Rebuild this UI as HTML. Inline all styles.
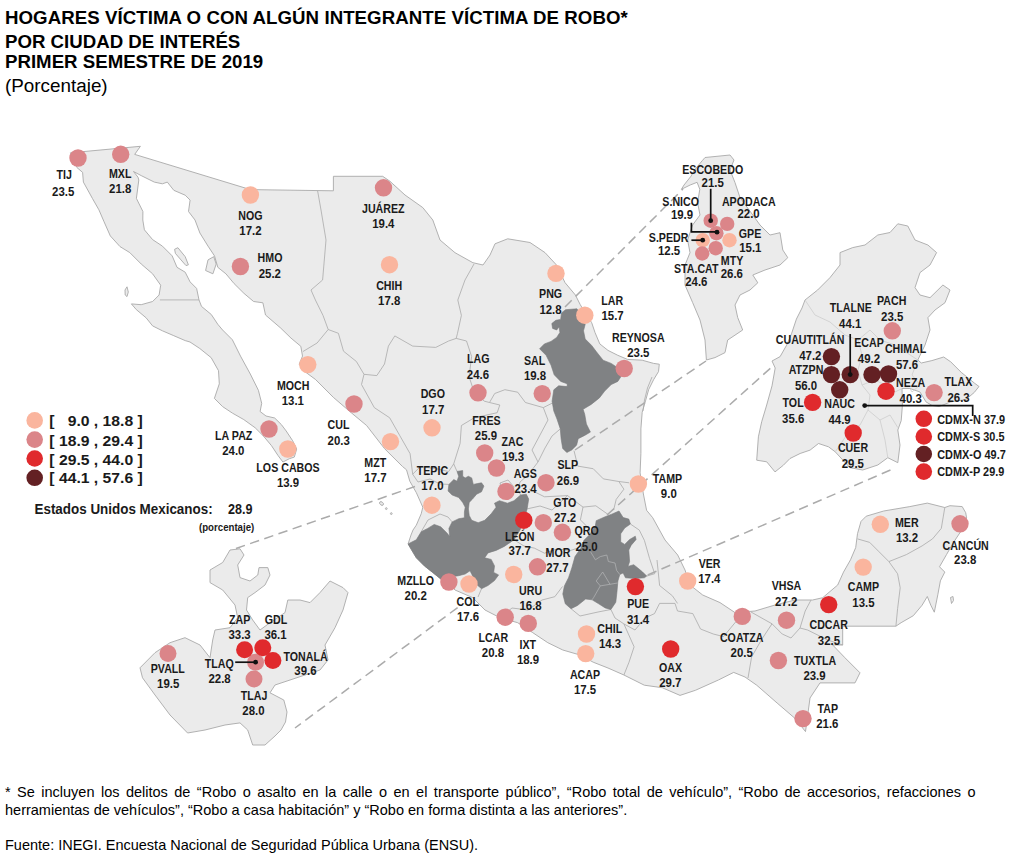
<!DOCTYPE html>
<html><head><meta charset="utf-8">
<style>
html,body{margin:0;padding:0;background:#fff;}
body{width:1018px;height:859px;position:relative;overflow:hidden;font-family:"Liberation Sans",sans-serif;color:#000;}
.t{position:absolute;left:5px;white-space:nowrap;font-weight:bold;font-size:18.67px;line-height:20px;}
.fn{position:absolute;left:5px;font-size:14.5px;line-height:17.7px;}
svg{position:absolute;left:0;top:0;}
svg text{font-family:"Liberation Sans",sans-serif;font-weight:bold;font-size:13px;fill:#1a1a1a;}
</style></head><body>
<div class="t" id="t1" style="top:8.1px;letter-spacing:0.055px">HOGARES VÍCTIMA O CON ALGÚN INTEGRANTE VÍCTIMA DE ROBO*</div>
<div class="t" id="t2" style="top:31.9px">POR CIUDAD DE INTERÉS</div>
<div class="t" id="t3" style="top:52.3px">PRIMER SEMESTRE DE 2019</div>
<div class="t" id="t4" style="top:75.8px;font-size:18.85px;font-weight:normal">(Porcentaje)</div>
<svg id="map" width="1018" height="859" viewBox="0 0 1018 859">
<!--MAP-->
<g fill="#ebebeb" stroke="#a9a9a9" stroke-width="0.9" stroke-linejoin="round">
<polygon points="70.4,152.8 140.4,146.3 134.7,154.4 250.4,189.6 333.4,190.8 333.4,176.3 382.7,176.3 390.0,181.3 405.0,195.0 422.8,207.6 432.8,220.0 440.0,240.0 455.0,252.7 472.9,262.7 483.0,265.0 490.0,255.0 495.0,243.8 507.7,238.8 530.0,242.5 545.0,252.6 556.5,265.0 565.0,282.6 575.4,295.0 580.3,304.8 591.7,322.7 595.0,332.5 599.8,343.9 608.0,350.4 617.8,355.3 627.5,359.4 642.2,360.2 653.6,363.4 659.3,364.2 658.5,371.6 653.6,379.7 648.7,389.5 645.5,400.9 642.2,412.3 640.9,428.9 640.9,453.3 640.1,472.9 643.4,494.0 646.6,510.3 652.7,517.7 665.0,540.0 677.7,555.0 685.0,570.0 690.0,585.0 702.7,595.0 720.0,602.6 735.0,612.6 755.0,611.0 775.0,605.0 795.0,600.0 812.6,600.0 822.7,597.7 837.7,585.0 843.5,572.1 850.5,559.8 855.7,547.6 857.5,533.7 861.0,521.4 866.2,516.2 883.7,511.0 909.8,506.6 927.3,503.1 944.8,507.5 950.0,505.7 962.2,506.6 965.7,512.7 966.6,517.9 960.5,531.9 953.5,542.4 946.5,554.6 939.5,566.8 944.8,572.1 940.4,580.8 937.8,594.8 934.3,612.2 930.8,605.2 927.3,596.5 922.1,605.2 913.3,615.7 901.1,622.7 895.9,626.2 842.7,626.2 842.7,645.0 832.7,645.0 845.0,657.8 860.0,672.8 855.0,682.9 820.0,682.9 810.0,698.0 805.5,731.6 795.0,718.4 777.1,703.0 756.7,685.2 745.0,677.0 733.7,672.4 718.4,680.0 705.0,686.0 695.4,690.3 680.0,695.4 662.2,687.7 644.3,685.2 623.9,675.0 608.0,668.0 593.2,662.2 580.0,655.0 562.8,650.0 547.8,642.7 532.8,632.7 517.7,622.7 500.0,617.7 485.0,610.0 472.6,597.6 455.0,590.0 447.6,582.6 440.7,578.9 432.6,572.4 424.4,565.9 416.3,557.8 411.4,549.6 408.1,543.9 411.0,535.0 413.0,530.0 416.3,525.2 421.2,513.8 422.8,507.2 416.3,492.6 409.8,481.2 406.5,469.8 402.5,466.5 384.5,448.6 366.6,425.5 351.2,412.7 333.3,397.3 315.4,379.4 304.0,371.0 299.2,364.2 302.5,356.1 300.8,346.3 291.0,338.1 280.5,327.9 265.5,315.0 262.9,302.8 253.6,301.5 243.9,293.3 234.1,283.6 225.9,273.8 217.8,267.3 214.5,255.9 208.0,246.1 199.9,233.0 195.0,220.0 188.5,211.5 190.1,200.1 185.2,195.2 173.8,190.3 167.3,182.1 162.4,183.8 154.3,182.1 141.2,175.6 133.5,171.5 138.0,177.2 138.8,180.0 136.4,198.4 142.9,211.5 142.8,220.0 144.4,229.8 152.6,239.6 162.4,246.1 172.2,255.9 177.0,267.3 185.2,272.2 190.1,281.9 196.6,288.4 199.0,299.9 201.5,306.4 211.3,314.5 217.8,324.3 222.6,330.0 232.4,339.8 240.5,356.1 250.3,374.0 258.4,390.3 261.7,403.3 260.1,411.5 266.0,416.0 274.7,418.0 281.3,424.5 286.2,431.0 292.7,440.8 296.7,449.0 294.3,457.1 289.4,458.7 282.9,462.0 278.0,455.5 271.5,445.7 263.3,435.9 255.2,427.8 243.8,419.6 232.4,413.1 222.6,406.6 214.4,398.4 219.3,383.8 218.5,370.7 211.2,357.7 199.8,348.5 190.0,342.0 185.2,340.6 173.8,335.7 162.4,330.8 152.6,325.9 146.1,317.8 136.3,309.6 131.4,303.9 141.2,304.7 152.6,301.5 159.1,295.0 160.7,285.2 152.6,273.8 141.2,264.0 129.8,252.6 120.0,246.6 110.3,235.9 103.8,221.2 98.9,209.8 92.4,198.4 83.4,182.1 82.6,172.4 76.9,167.5 70.4,152.8"/>
<polygon points="705.0,157.5 730.0,155.0 734.0,160.0 730.0,170.0 735.0,182.6 740.0,197.6 752.8,215.0 760.0,225.0 770.0,235.0 780.0,232.7 782.8,250.0 787.8,257.7 780.0,265.0 765.0,270.0 752.8,275.0 757.8,282.8 750.0,290.0 740.0,295.0 735.0,305.0 737.7,317.5 742.7,330.0 727.7,340.0 725.0,352.6 715.0,357.6 706.4,360.0 705.0,340.0 700.0,320.0 692.6,302.5 685.0,285.0 685.0,265.0 690.0,252.7 687.6,240.0 692.6,225.0 700.0,215.0 697.6,202.6 699.8,189.3 697.1,182.3 690.2,185.0 681.4,189.3 684.0,185.0 691.0,176.2 694.5,170.0 702.4,160.5"/>
<polygon points="897.8,223.8 907.8,226.0 915.0,240.0 927.9,245.0 936.6,252.6 930.0,265.0 920.0,272.6 915.0,287.6 920.0,295.0 930.0,297.7 942.9,285.0 950.0,290.0 945.0,302.7 935.0,310.0 927.9,317.7 930.0,330.0 925.0,345.0 917.8,360.0 921.3,363.0 931.9,360.6 943.7,357.0 950.7,361.8 961.3,372.4 974.3,383.0 979.0,386.5 974.3,392.4 966.0,399.5 950.7,401.9 939.0,406.6 931.9,405.4 926.0,401.9 920.0,392.0 910.0,388.5 902.0,388.5 902.4,405.4 901.2,420.7 897.8,430.0 900.0,445.0 897.8,462.7 887.8,457.7 877.8,465.0 862.7,470.0 850.0,467.7 840.0,457.0 835.2,451.8 828.5,446.8 818.5,443.5 810.1,450.1 800.1,453.5 790.0,458.5 783.4,465.2 775.0,471.9 766.7,461.8 756.7,460.2 758.4,436.8 761.7,421.7 766.7,405.0 772.0,385.9 775.2,368.0 772.0,361.0 780.1,356.6 786.6,345.2 791.5,333.8 796.4,319.1 802.0,308.0 805.0,300.0 817.6,290.0 830.0,277.6 840.0,265.0 840.0,252.6 852.7,247.6 865.0,245.0 877.8,235.0 890.0,232.5"/>
<polygon points="230.0,550.0 240.0,548.8 244.0,555.0 237.7,565.0 240.0,577.6 250.0,581.0 257.8,575.0 259.0,567.6 267.8,567.6 270.0,575.0 265.0,585.0 255.0,592.6 247.7,597.6 246.5,610.0 252.7,620.0 260.0,630.0 270.0,622.7 285.0,612.6 287.8,600.0 300.0,600.0 310.0,602.6 320.0,592.6 330.0,581.0 343.0,587.6 348.0,592.6 343.0,610.0 335.0,627.7 325.0,645.0 328.0,660.0 320.0,670.0 305.0,675.0 290.0,680.0 275.0,685.0 270.0,692.8 283.8,700.0 287.0,712.0 285.5,722.0 281.0,730.0 275.0,736.0 265.0,745.0 252.7,745.0 247.7,730.0 240.0,722.9 225.0,725.0 205.0,730.0 187.6,733.0 170.0,715.0 155.0,695.0 142.5,677.8 140.0,667.8 155.0,652.7 170.0,642.7 185.0,637.7 200.0,645.0 210.0,657.7 212.7,640.0 215.0,630.0 230.0,627.7 237.7,617.7 235.0,605.0 222.7,590.0 210.0,582.6 210.0,570.0 222.7,562.5"/>
<polygon points="208,259.9 213.7,256.7 216.2,264 212.9,273.8 205.6,270.5"/>
<polygon points="174.6,249.3 177.9,247.7 185.2,256.7 188.4,264.8 186,265.6 180.3,259.1 175.4,253.4"/>
<polygon points="950.5,597.5 953,596.5 953.5,600.5 951.5,603.5"/>
<polygon points="125,290 127,286.8 128.3,292 127,296.6 125.2,295"/>
<ellipse cx="381.5" cy="503.5" rx="2.2" ry="1.5" transform="rotate(40 381.5 503.5)"/>
<circle cx="386.3" cy="508.6" r="0.9"/>
<circle cx="391.3" cy="513.6" r="0.9"/>
</g>
<g fill="none" stroke="#a9a9a9" stroke-width="0.8" stroke-linejoin="round">
<polyline points="159.9,299.9 199.0,299.9"/>
<polyline points="317.6,190.8 321.0,210.0 326.0,240.0 322.6,280.0 311.0,290.0 315.4,300.0 323.0,315.4 328.2,329.5"/>
<polyline points="303.0,351.5 317.1,343.0 328.2,329.5"/>
<polyline points="328.2,329.5 338.4,333.3 343.5,351.2 356.4,361.5 364.0,374.3"/>
<polyline points="364.0,374.3 376.8,375.6 384.5,364.0 388.4,346.1 394.8,335.9 412.7,346.1 435.8,347.4 448.6,341.0 456.2,338.4"/>
<polyline points="474.0,264.0 465.0,280.0 457.8,300.0 461.4,315.4 457.5,333.3 456.2,338.4"/>
<polyline points="456.2,338.4 466.5,341.0 471.6,356.4 469.1,376.8 474.2,392.2 484.4,401.2 489.5,402.5"/>
<polyline points="489.5,402.5 494.7,393.5 504.9,389.7 517.7,392.2 525.4,402.5 543.3,407.6 552.5,403.0"/>
<polyline points="489.5,402.5 499.8,405.0 497.2,412.7 474.2,417.8 461.4,425.5 460.1,443.4 453.7,463.9 448.6,471.6 438.3,469.1 420.4,466.5 412.7,474.2"/>
<polyline points="364.0,374.3 361.5,384.5 374.3,407.6 389.7,417.8 399.9,435.8 410.1,453.7 412.7,474.2"/>
<polyline points="412.7,474.2 418.0,482.0 430.0,479.0 440.0,484.0 448.9,484.4"/>
<polyline points="453.7,463.9 457.0,471.4"/>
<polyline points="543.3,407.6 548.0,420.0 540.0,435.0 532.0,450.0 538.0,462.0 528.0,475.0 520.0,482.0 518.0,490.0 520.6,495.0"/>
<polyline points="560.3,428.9 552.0,436.0 545.0,448.0 538.0,462.0"/>
<polyline points="574.0,450.7 577.8,466.1 593.2,468.7 603.4,478.9 618.8,481.5 629.1,482.8"/>
<polyline points="618.8,481.5 623.9,489.2 616.2,499.4 613.7,509.7"/>
<polyline points="529.2,489.2 544.5,496.8 567.6,495.6 583.0,507.1 595.8,505.8 608.6,514.8"/>
<polyline points="583.0,507.1 580.4,519.9 588.1,527.6 590.5,533.8"/>
<polyline points="527.1,508.9 540.0,506.0 552.0,510.0 567.6,495.6"/>
<polyline points="514.0,539.8 524.0,546.0 534.3,548.1 544.5,553.2 557.0,549.0 570.1,550.6 578.0,548.0"/>
<polyline points="500.0,617.7 512.0,608.0 528.0,610.0 542.0,600.0 554.8,596.7 562.5,586.5"/>
<polyline points="571.0,608.7 580.0,616.0 598.0,612.0 610.9,609.5"/>
<polyline points="646.7,576.1 654.7,573.7 649.5,558.3 644.4,540.4 639.3,530.1 630.4,524.0"/>
<polyline points="657.0,560.0 659.6,585.5 672.4,595.8 677.5,603.4"/>
<polyline points="654.5,613.6 659.6,603.4 675.0,603.4 677.5,611.0 692.8,613.6 700.5,629.0 713.3,634.0 723.5,636.6 736.2,621.3"/>
<polyline points="654.5,613.6 645.0,618.0 635.0,630.0 623.9,623.9"/>
<polyline points="623.9,623.9 634.1,646.8 629.0,662.2 623.9,675.0"/>
<polyline points="610.9,609.5 615.0,618.0 623.9,623.9"/>
<polyline points="751.0,612.0 772.0,623.8 761.8,639.2 751.6,657.0 748.0,678.0"/>
<polyline points="772.0,623.8 782.2,634.0 791.0,638.0 800.0,628.0 807.6,630.0 827.7,640.0 842.7,645.0"/>
<polyline points="800.0,628.0 805.2,611.0 811.0,600.0"/>
<polyline points="857.5,538.9 869.7,542.4 878.4,551.1 888.9,561.6 906.4,554.6 922.1,545.9 932.5,538.9 941.3,528.4 944.8,507.5"/>
<polyline points="888.9,561.6 897.6,573.8 900.2,587.8 897.6,608.7 895.9,626.2"/>
<polyline points="447.6,582.6 455.0,577.0"/>
<polyline points="481.5,588.7 478.0,597.0"/>
<polyline points="421.2,531.7 428.0,520.0 440.0,514.0 448.0,517.0 452.1,521.9"/>
<polyline points="652.0,377.0 647.5,388.0 644.5,400.0 643.0,411.0"/>
<polyline points="500.0,483.0 508.0,480.0 514.0,487.0 511.0,496.0 503.0,495.0 500.0,483.0"/>
</g>
<g fill="none" stroke="#cdcdcd" stroke-width="0.8" stroke-linejoin="round">
<polyline points="805.0,300.0 815.0,315.0 830.0,322.0 845.0,335.0 858.0,340.0 870.0,330.0 880.0,340.0 895.0,345.0 917.8,360.0"/>
<polyline points="858.0,340.0 862.0,355.0 858.0,370.0 862.0,385.0 870.0,395.0 868.0,410.0 880.0,420.0 890.0,415.0 897.8,427.6"/>
<polyline points="862.0,385.0 875.0,380.0 885.0,385.0 895.0,392.0 902.0,388.5"/>
<polyline points="868.0,410.0 860.0,425.0 850.0,430.0 842.0,442.0 835.2,451.8"/>
<polyline points="880.0,420.0 885.0,440.0 887.8,457.7"/>
<polyline points="917.8,360.0 912.0,375.0 920.0,385.0 912.0,392.0 910.0,388.5"/>
</g>
<g fill="#808284" stroke="#77797b" stroke-width="0.6" stroke-linejoin="round">
<polygon points="565.6,309.7 577.0,308.8 581.0,316.0 585.2,324.3 583.5,330.8 585.2,339.0 591.7,345.5 596.6,352.0 603.1,360.2 611.2,363.4 616.1,366.7 621.0,376.5 617.8,381.4 611.2,384.6 604.7,391.1 599.4,397.9 591.2,404.4 583.1,409.3 584.7,414.2 586.4,424.0 590.4,432.1 584.7,435.4 578.2,438.7 576.6,445.2 571.7,450.0 566.8,452.5 562.7,448.4 561.1,438.7 560.3,428.9 557.0,419.1 553.8,411.0 552.1,401.2 553.8,389.8 558.7,385.8 567.2,386.6 567.2,383.8 560.7,381.4 554.2,374.8 551.0,365.1 546.1,355.3 539.6,348.8 544.4,343.9 551.0,341.4 556.7,337.4 559.9,332.5 559.1,326.8 556.7,330.0 552.6,328.4 551.8,323.5 555.8,320.3 560.7,319.4 561.5,312.9"/>
<polygon points="457.0,471.4 462.7,470.6 462.7,476.3 465.2,477.9 468.4,476.3 471.7,477.9 473.3,484.4 477.4,483.6 481.5,482.8 483.9,486.1 481.5,491.8 476.6,494.2 472.5,499.1 469.2,502.4 468.4,508.9 469.2,515.4 471.7,520.3 478.2,522.7 484.7,520.3 491.2,513.8 496.1,507.2 494.5,503.2 499.4,500.7 507.5,503.2 514.0,500.7 520.6,495.0 526.3,494.2 528.7,499.1 527.1,508.9 524.0,520.0 520.0,530.0 514.0,539.8 504.3,546.4 496.1,550.4 488.0,552.9 484.7,557.8 491.2,559.4 494.5,565.9 493.7,572.4 498.6,574.9 494.5,580.6 488.0,585.5 481.5,588.7 476.0,584.0 473.0,577.0 471.7,574.0 470.0,570.8 465.2,574.0 458.7,575.7 450.0,577.0 440.7,578.9 432.6,572.4 424.4,565.9 416.3,557.8 411.4,549.6 408.1,543.9 416.3,539.8 421.2,531.7 427.7,528.4 434.2,524.4 440.7,526.8 447.2,533.3 449.7,536.6 448.9,528.4 452.1,521.9 458.7,518.7 464.4,517.8 464.4,512.1 465.2,507.2 462.7,502.4 458.7,497.5 452.1,495.0 448.1,491.0 448.9,484.4 453.8,479.6 457.0,481.2 458.7,476.3"/>
<polygon points="619.0,511.0 623.1,517.5 628.8,519.1 630.4,524.0 624.7,528.0 620.7,533.8 620.7,541.9 624.7,544.4 629.6,539.5 635.3,536.2 636.1,539.5 631.2,545.2 628.8,550.0 629.6,561.5 628.0,566.4 633.7,564.7 637.8,568.0 642.6,572.0 646.7,576.1 644.3,577.8 635.0,578.5 625.5,577.8 623.1,572.9 619.8,574.5 617.9,581.0 616.9,592.4 615.8,602.2 610.9,609.5 605.2,607.9 598.7,603.8 592.1,599.8 585.6,599.0 577.5,605.5 571.0,608.7 565.3,603.8 562.8,594.0 564.4,585.9 568.5,577.8 571.8,568.0 575.0,556.6 580.7,548.4 584.0,540.3 590.5,533.8 595.4,525.6 596.2,520.7 605.2,516.7 611.7,514.2"/>
</g>
<g fill="none" stroke="#b5b6b8" stroke-width="0.7">
<polyline points="590.5,551.7 595.4,559.8 600.3,556.6 606.8,555.0 608.4,561.5 615.0,563.0 616.6,570.4 619.8,574.5"/>
<polyline points="602.7,572.0 596.2,581.0 600.3,585.9 610.0,584.3 602.7,572.0"/>
<polyline points="600.3,585.9 593.8,597.3 592.1,599.8"/>
<polyline points="610.0,584.3 617.5,583.0"/>
</g>
<g fill="none" stroke="#ababab" stroke-width="1.5" stroke-dasharray="9.5,5.5">
<line x1="565.0" y1="307.0" x2="683.0" y2="189.0"/>
<line x1="575.0" y1="450.0" x2="706.0" y2="361.0"/>
<line x1="607.0" y1="515.0" x2="774.0" y2="365.0"/>
<line x1="647.7" y1="575.0" x2="892.8" y2="469.0"/>
<line x1="415.0" y1="486.5" x2="236.0" y2="548.5"/>
<line x1="457.6" y1="607.6" x2="295.0" y2="728.0"/>
</g>
<g>
<circle cx="78.0" cy="158.0" r="8.7" fill="#db8589"/>
<circle cx="120.7" cy="154.3" r="8.7" fill="#db8589"/>
<circle cx="250.4" cy="195.0" r="8.7" fill="#fab59e"/>
<circle cx="240.4" cy="266.5" r="8.7" fill="#db8589"/>
<circle cx="383.5" cy="187.8" r="8.7" fill="#db8589"/>
<circle cx="389.5" cy="264.7" r="8.7" fill="#fab59e"/>
<circle cx="556.0" cy="273.4" r="8.7" fill="#fab59e"/>
<circle cx="584.8" cy="315.2" r="8.7" fill="#fab59e"/>
<circle cx="624.2" cy="368.5" r="8.7" fill="#db8589"/>
<circle cx="478.0" cy="392.8" r="8.7" fill="#db8589"/>
<circle cx="542.2" cy="393.6" r="8.7" fill="#db8589"/>
<circle cx="307.8" cy="364.6" r="8.7" fill="#fab59e"/>
<circle cx="354.0" cy="404.0" r="8.7" fill="#db8589"/>
<circle cx="432.0" cy="427.8" r="8.7" fill="#fab59e"/>
<circle cx="390.5" cy="441.6" r="8.7" fill="#fab59e"/>
<circle cx="269.0" cy="429.0" r="8.7" fill="#db8589"/>
<circle cx="287.8" cy="449.0" r="8.7" fill="#fab59e"/>
<circle cx="484.7" cy="453.0" r="8.7" fill="#db8589"/>
<circle cx="496.5" cy="468.0" r="8.7" fill="#db8589"/>
<circle cx="506.0" cy="491.4" r="8.7" fill="#db8589"/>
<circle cx="546.0" cy="482.7" r="8.7" fill="#db8589"/>
<circle cx="638.4" cy="484.0" r="8.7" fill="#fab59e"/>
<circle cx="431.9" cy="505.2" r="8.7" fill="#fab59e"/>
<circle cx="523.8" cy="520.2" r="8.7" fill="#e02a2d"/>
<circle cx="543.3" cy="522.7" r="8.7" fill="#db8589"/>
<circle cx="562.4" cy="532.3" r="8.7" fill="#db8589"/>
<circle cx="537.5" cy="566.8" r="8.7" fill="#db8589"/>
<circle cx="513.7" cy="574.5" r="8.7" fill="#fab59e"/>
<circle cx="448.9" cy="582.0" r="8.7" fill="#db8589"/>
<circle cx="469.0" cy="584.0" r="8.7" fill="#fab59e"/>
<circle cx="505.2" cy="617.2" r="8.7" fill="#db8589"/>
<circle cx="528.3" cy="623.4" r="8.7" fill="#db8589"/>
<circle cx="586.5" cy="634.0" r="8.7" fill="#fab59e"/>
<circle cx="585.7" cy="653.6" r="8.7" fill="#fab59e"/>
<circle cx="635.4" cy="586.6" r="8.7" fill="#e02a2d"/>
<circle cx="687.7" cy="581.0" r="8.7" fill="#fab59e"/>
<circle cx="670.7" cy="649.0" r="8.7" fill="#e02a2d"/>
<circle cx="742.3" cy="616.4" r="8.7" fill="#db8589"/>
<circle cx="786.5" cy="620.2" r="8.7" fill="#db8589"/>
<circle cx="828.7" cy="604.6" r="8.7" fill="#e02a2d"/>
<circle cx="863.2" cy="567.1" r="8.7" fill="#fab59e"/>
<circle cx="880.3" cy="524.3" r="8.7" fill="#fab59e"/>
<circle cx="960.0" cy="523.8" r="8.7" fill="#db8589"/>
<circle cx="778.4" cy="660.5" r="8.7" fill="#db8589"/>
<circle cx="803.0" cy="718.6" r="8.7" fill="#db8589"/>
<circle cx="892.3" cy="330.8" r="8.7" fill="#db8589"/>
<circle cx="831.4" cy="356.6" r="8.7" fill="#632023"/>
<circle cx="831.4" cy="374.6" r="8.7" fill="#632023"/>
<circle cx="850.2" cy="374.6" r="8.7" fill="#632023"/>
<circle cx="839.7" cy="389.8" r="8.7" fill="#632023"/>
<circle cx="872.0" cy="374.6" r="8.7" fill="#632023"/>
<circle cx="888.5" cy="374.0" r="8.7" fill="#632023"/>
<circle cx="886.0" cy="391.2" r="8.7" fill="#e02a2d"/>
<circle cx="934.1" cy="392.6" r="8.7" fill="#db8589"/>
<circle cx="812.6" cy="402.4" r="8.7" fill="#e02a2d"/>
<circle cx="853.2" cy="433.0" r="8.7" fill="#e02a2d"/>
<circle cx="923.8" cy="418.8" r="8.3" fill="#e02a2d"/>
<circle cx="923.8" cy="436.5" r="8.3" fill="#e02a2d"/>
<circle cx="923.8" cy="454.0" r="8.3" fill="#632023"/>
<circle cx="923.8" cy="471.6" r="8.3" fill="#e02a2d"/>
<circle cx="168.0" cy="653.4" r="8.5" fill="#db8589"/>
<circle cx="255.6" cy="662.2" r="8.5" fill="#db8589"/>
<circle cx="254.0" cy="679.0" r="8.5" fill="#db8589"/>
<circle cx="244.6" cy="649.8" r="8.5" fill="#e02a2d"/>
<circle cx="262.8" cy="647.8" r="8.5" fill="#e02a2d"/>
<circle cx="272.9" cy="660.5" r="8.5" fill="#e02a2d"/>
<circle cx="710.7" cy="220.7" r="7.2" fill="#db8589"/>
<circle cx="727.2" cy="223.9" r="7.2" fill="#db8589"/>
<circle cx="702.7" cy="240.2" r="7.2" fill="#fab59e"/>
<circle cx="729.5" cy="240.2" r="7.2" fill="#fab59e"/>
<circle cx="716.4" cy="233.2" r="7.2" fill="#db8589"/>
<circle cx="715.7" cy="248.2" r="7.2" fill="#db8589"/>
<circle cx="702.2" cy="253.5" r="7.2" fill="#db8589"/>
<circle cx="34.7" cy="420.4" r="8.3" fill="#fab59e"/>
<circle cx="34.7" cy="439.6" r="8.3" fill="#db8589"/>
<circle cx="34.7" cy="458.5" r="8.3" fill="#e02a2d"/>
<circle cx="34.7" cy="477.8" r="8.3" fill="#632023"/>
</g>
<g fill="none" stroke="#111" stroke-width="1.7">
<polyline points="710.7,188.8 710.7,220.7"/>
<polyline points="691.4,222.7 691.4,231.8 717,231.8"/>
<polyline points="691.4,240.2 702.7,240.2"/>
<polyline points="850.2,334 850.2,374.6"/>
<polyline points="864.7,405.6 972.7,405.6 972.7,416"/>
<polyline points="235.2,662.2 255.6,662.2"/>
</g>
<g fill="#111">
<circle cx="710.7" cy="220.7" r="2.4"/>
<circle cx="717.0" cy="232.2" r="2.4"/>
<circle cx="702.7" cy="240.2" r="2.4"/>
<circle cx="850.2" cy="374.6" r="2.4"/>
<circle cx="864.7" cy="405.6" r="2.4"/>
<circle cx="255.6" cy="662.2" r="2.4"/>
</g>
<text transform="translate(64.2,179.3) scale(0.820,1)" text-anchor="middle">TIJ</text>
<text transform="translate(63.2,195.6) scale(0.880,1)" text-anchor="middle">23.5</text>
<text transform="translate(120.2,178.1) scale(0.820,1)" text-anchor="middle">MXL</text>
<text transform="translate(120.2,193.4) scale(0.880,1)" text-anchor="middle">21.8</text>
<text transform="translate(250.4,219.7) scale(0.820,1)" text-anchor="middle">NOG</text>
<text transform="translate(250.4,235.2) scale(0.880,1)" text-anchor="middle">17.2</text>
<text transform="translate(270.0,262.3) scale(0.820,1)" text-anchor="middle">HMO</text>
<text transform="translate(269.8,278.3) scale(0.880,1)" text-anchor="middle">25.2</text>
<text transform="translate(293.2,389.7) scale(0.820,1)" text-anchor="middle">MOCH</text>
<text transform="translate(292.8,404.7) scale(0.880,1)" text-anchor="middle">13.1</text>
<text transform="translate(338.5,429.0) scale(0.820,1)" text-anchor="middle">CUL</text>
<text transform="translate(338.7,444.5) scale(0.880,1)" text-anchor="middle">20.3</text>
<text transform="translate(375.2,467.3) scale(0.820,1)" text-anchor="middle">MZT</text>
<text transform="translate(375.4,482.4) scale(0.880,1)" text-anchor="middle">17.7</text>
<text transform="translate(233.7,439.8) scale(0.820,1)" text-anchor="middle">LA PAZ</text>
<text transform="translate(233.3,455.3) scale(0.880,1)" text-anchor="middle">24.0</text>
<text transform="translate(288.0,471.6) scale(0.820,1)" text-anchor="middle">LOS CABOS</text>
<text transform="translate(288.0,486.6) scale(0.880,1)" text-anchor="middle">13.9</text>
<text transform="translate(383.3,213.4) scale(0.820,1)" text-anchor="middle">JUÁREZ</text>
<text transform="translate(383.3,228.2) scale(0.880,1)" text-anchor="middle">19.4</text>
<text transform="translate(389.2,289.8) scale(0.820,1)" text-anchor="middle">CHIH</text>
<text transform="translate(389.2,305.3) scale(0.880,1)" text-anchor="middle">17.8</text>
<text transform="translate(550.6,297.7) scale(0.820,1)" text-anchor="middle">PNG</text>
<text transform="translate(550.5,313.9) scale(0.880,1)" text-anchor="middle">12.8</text>
<text transform="translate(612.3,305.2) scale(0.820,1)" text-anchor="middle">LAR</text>
<text transform="translate(612.6,320.2) scale(0.880,1)" text-anchor="middle">15.7</text>
<text transform="translate(638.3,341.5) scale(0.820,1)" text-anchor="middle">REYNOSA</text>
<text transform="translate(638.3,357.3) scale(0.880,1)" text-anchor="middle">23.5</text>
<text transform="translate(478.2,363.3) scale(0.820,1)" text-anchor="middle">LAG</text>
<text transform="translate(477.9,379.0) scale(0.880,1)" text-anchor="middle">24.6</text>
<text transform="translate(534.6,364.8) scale(0.820,1)" text-anchor="middle">SAL</text>
<text transform="translate(535.0,380.3) scale(0.880,1)" text-anchor="middle">19.8</text>
<text transform="translate(432.8,398.4) scale(0.820,1)" text-anchor="middle">DGO</text>
<text transform="translate(433.2,414.0) scale(0.880,1)" text-anchor="middle">17.7</text>
<text transform="translate(486.5,424.6) scale(0.820,1)" text-anchor="middle">FRES</text>
<text transform="translate(485.9,440.1) scale(0.880,1)" text-anchor="middle">25.9</text>
<text transform="translate(512.4,445.6) scale(0.820,1)" text-anchor="middle">ZAC</text>
<text transform="translate(513.0,461.4) scale(0.880,1)" text-anchor="middle">19.3</text>
<text transform="translate(525.2,477.7) scale(0.820,1)" text-anchor="middle">AGS</text>
<text transform="translate(525.6,493.4) scale(0.880,1)" text-anchor="middle">23.4</text>
<text transform="translate(567.8,468.9) scale(0.820,1)" text-anchor="middle">SLP</text>
<text transform="translate(567.9,484.7) scale(0.880,1)" text-anchor="middle">26.9</text>
<text transform="translate(564.8,507.0) scale(0.820,1)" text-anchor="middle">GTO</text>
<text transform="translate(565.1,522.0) scale(0.880,1)" text-anchor="middle">27.2</text>
<text transform="translate(586.7,535.3) scale(0.820,1)" text-anchor="middle">QRO</text>
<text transform="translate(586.6,550.8) scale(0.880,1)" text-anchor="middle">25.0</text>
<text transform="translate(519.7,540.8) scale(0.820,1)" text-anchor="middle">LEÓN</text>
<text transform="translate(519.7,554.8) scale(0.880,1)" text-anchor="middle">37.7</text>
<text transform="translate(558.0,556.5) scale(0.820,1)" text-anchor="middle">MOR</text>
<text transform="translate(557.4,572.2) scale(0.880,1)" text-anchor="middle">27.7</text>
<text transform="translate(530.6,594.7) scale(0.820,1)" text-anchor="middle">URU</text>
<text transform="translate(530.6,609.7) scale(0.880,1)" text-anchor="middle">16.8</text>
<text transform="translate(432.4,475.2) scale(0.820,1)" text-anchor="middle">TEPIC</text>
<text transform="translate(432.4,490.2) scale(0.880,1)" text-anchor="middle">17.0</text>
<text transform="translate(415.7,584.6) scale(0.820,1)" text-anchor="middle">MZLLO</text>
<text transform="translate(415.7,600.2) scale(0.880,1)" text-anchor="middle">20.2</text>
<text transform="translate(467.7,605.5) scale(0.820,1)" text-anchor="middle">COL</text>
<text transform="translate(468.0,621.4) scale(0.880,1)" text-anchor="middle">17.6</text>
<text transform="translate(493.3,642.2) scale(0.820,1)" text-anchor="middle">LCAR</text>
<text transform="translate(492.9,657.2) scale(0.880,1)" text-anchor="middle">20.8</text>
<text transform="translate(527.8,649.0) scale(0.820,1)" text-anchor="middle">IXT</text>
<text transform="translate(528.0,664.0) scale(0.880,1)" text-anchor="middle">18.9</text>
<text transform="translate(609.8,632.7) scale(0.820,1)" text-anchor="middle">CHIL</text>
<text transform="translate(610.0,647.7) scale(0.880,1)" text-anchor="middle">14.3</text>
<text transform="translate(585.0,679.0) scale(0.820,1)" text-anchor="middle">ACAP</text>
<text transform="translate(585.0,694.1) scale(0.880,1)" text-anchor="middle">17.5</text>
<text transform="translate(638.2,608.4) scale(0.820,1)" text-anchor="middle">PUE</text>
<text transform="translate(638.1,623.9) scale(0.880,1)" text-anchor="middle">31.4</text>
<text transform="translate(709.6,567.6) scale(0.820,1)" text-anchor="middle">VER</text>
<text transform="translate(709.3,583.1) scale(0.880,1)" text-anchor="middle">17.4</text>
<text transform="translate(786.5,590.1) scale(0.820,1)" text-anchor="middle">VHSA</text>
<text transform="translate(786.2,606.0) scale(0.880,1)" text-anchor="middle">27.2</text>
<text transform="translate(741.7,641.5) scale(0.820,1)" text-anchor="middle">COATZA</text>
<text transform="translate(741.7,656.5) scale(0.880,1)" text-anchor="middle">20.5</text>
<text transform="translate(670.6,672.0) scale(0.820,1)" text-anchor="middle">OAX</text>
<text transform="translate(670.3,687.3) scale(0.880,1)" text-anchor="middle">29.7</text>
<text transform="translate(815.1,664.8) scale(0.820,1)" text-anchor="middle">TUXTLA</text>
<text transform="translate(814.5,679.9) scale(0.880,1)" text-anchor="middle">23.9</text>
<text transform="translate(827.8,712.6) scale(0.820,1)" text-anchor="middle">TAP</text>
<text transform="translate(827.3,728.2) scale(0.880,1)" text-anchor="middle">21.6</text>
<text transform="translate(828.7,629.0) scale(0.820,1)" text-anchor="middle">CDCAR</text>
<text transform="translate(828.9,644.5) scale(0.880,1)" text-anchor="middle">32.5</text>
<text transform="translate(863.4,591.4) scale(0.820,1)" text-anchor="middle">CAMP</text>
<text transform="translate(863.4,607.2) scale(0.880,1)" text-anchor="middle">13.5</text>
<text transform="translate(906.8,527.1) scale(0.820,1)" text-anchor="middle">MER</text>
<text transform="translate(907.0,542.1) scale(0.880,1)" text-anchor="middle">13.2</text>
<text transform="translate(965.7,550.1) scale(0.820,1)" text-anchor="middle">CANCÚN</text>
<text transform="translate(965.2,563.9) scale(0.880,1)" text-anchor="middle">23.8</text>
<text transform="translate(667.5,482.7) scale(0.820,1)" text-anchor="middle">TAMP</text>
<text transform="translate(668.8,497.7) scale(0.880,1)" text-anchor="middle">9.0</text>
<text transform="translate(891.7,304.7) scale(0.820,1)" text-anchor="middle">PACH</text>
<text transform="translate(892.2,321.0) scale(0.880,1)" text-anchor="middle">23.5</text>
<text transform="translate(850.8,312.2) scale(0.820,1)" text-anchor="middle">TLALNE</text>
<text transform="translate(850.2,327.7) scale(0.880,1)" text-anchor="middle">44.1</text>
<text transform="translate(810.1,344.0) scale(0.820,1)" text-anchor="middle">CUAUTITLÁN</text>
<text transform="translate(810.3,359.5) scale(0.880,1)" text-anchor="middle">47.2</text>
<text transform="translate(806.0,374.1) scale(0.820,1)" text-anchor="middle">ATZPN</text>
<text transform="translate(806.0,389.6) scale(0.880,1)" text-anchor="middle">56.0</text>
<text transform="translate(869.0,347.3) scale(0.820,1)" text-anchor="middle">ECAP</text>
<text transform="translate(868.9,362.8) scale(0.880,1)" text-anchor="middle">49.2</text>
<text transform="translate(905.6,352.8) scale(0.820,1)" text-anchor="middle">CHIMAL</text>
<text transform="translate(907.0,369.1) scale(0.880,1)" text-anchor="middle">57.6</text>
<text transform="translate(910.6,386.6) scale(0.820,1)" text-anchor="middle">NEZA</text>
<text transform="translate(910.7,402.9) scale(0.880,1)" text-anchor="middle">40.3</text>
<text transform="translate(958.4,385.8) scale(0.820,1)" text-anchor="middle">TLAX</text>
<text transform="translate(958.6,401.6) scale(0.880,1)" text-anchor="middle">26.3</text>
<text transform="translate(793.1,406.6) scale(0.820,1)" text-anchor="middle">TOL</text>
<text transform="translate(793.2,422.9) scale(0.880,1)" text-anchor="middle">35.6</text>
<text transform="translate(839.6,407.9) scale(0.820,1)" text-anchor="middle">NAUC</text>
<text transform="translate(839.6,424.2) scale(0.880,1)" text-anchor="middle">44.9</text>
<text transform="translate(853.0,452.2) scale(0.820,1)" text-anchor="middle">CUER</text>
<text transform="translate(852.8,467.7) scale(0.880,1)" text-anchor="middle">29.5</text>
<text transform="translate(712.7,173.8) scale(0.820,1)" text-anchor="middle">ESCOBEDO</text>
<text transform="translate(712.7,187.1) scale(0.880,1)" text-anchor="middle">21.5</text>
<text transform="translate(680.7,206.4) scale(0.820,1)" text-anchor="middle">S.NICO</text>
<text transform="translate(682.0,218.9) scale(0.880,1)" text-anchor="middle">19.9</text>
<text transform="translate(748.8,205.6) scale(0.820,1)" text-anchor="middle">APODACA</text>
<text transform="translate(748.6,218.4) scale(0.880,1)" text-anchor="middle">22.0</text>
<text transform="translate(668.6,242.0) scale(0.820,1)" text-anchor="middle">S.PEDR</text>
<text transform="translate(669.1,254.5) scale(0.880,1)" text-anchor="middle">12.5</text>
<text transform="translate(750.0,238.4) scale(0.820,1)" text-anchor="middle">GPE</text>
<text transform="translate(750.3,251.5) scale(0.880,1)" text-anchor="middle">15.1</text>
<text transform="translate(732.1,264.5) scale(0.820,1)" text-anchor="middle">MTY</text>
<text transform="translate(731.8,277.8) scale(0.880,1)" text-anchor="middle">26.6</text>
<text transform="translate(696.2,272.8) scale(0.820,1)" text-anchor="middle">STA.CAT</text>
<text transform="translate(696.3,286.0) scale(0.880,1)" text-anchor="middle">24.6</text>
<text transform="translate(239.6,623.9) scale(0.820,1)" text-anchor="middle">ZAP</text>
<text transform="translate(239.6,638.9) scale(0.880,1)" text-anchor="middle">33.3</text>
<text transform="translate(275.9,623.9) scale(0.820,1)" text-anchor="middle">GDL</text>
<text transform="translate(275.5,638.9) scale(0.880,1)" text-anchor="middle">36.1</text>
<text transform="translate(305.6,661.0) scale(0.820,1)" text-anchor="middle">TONALÁ</text>
<text transform="translate(305.4,674.8) scale(0.880,1)" text-anchor="middle">39.6</text>
<text transform="translate(219.2,667.8) scale(0.820,1)" text-anchor="middle">TLAQ</text>
<text transform="translate(219.6,682.8) scale(0.880,1)" text-anchor="middle">22.8</text>
<text transform="translate(254.1,700.3) scale(0.820,1)" text-anchor="middle">TLAJ</text>
<text transform="translate(253.4,715.4) scale(0.880,1)" text-anchor="middle">28.0</text>
<text transform="translate(167.8,672.8) scale(0.820,1)" text-anchor="middle">PVALL</text>
<text transform="translate(168.2,687.8) scale(0.880,1)" text-anchor="middle">19.5</text>
<text transform="translate(937.2,423.6) scale(0.840,1)" text-anchor="start">CDMX-N 37.9</text>
<text transform="translate(937.2,441.2) scale(0.840,1)" text-anchor="start">CDMX-S 30.5</text>
<text transform="translate(937.2,458.8) scale(0.840,1)" text-anchor="start">CDMX-O 49.7</text>
<text transform="translate(937.2,476.4) scale(0.840,1)" text-anchor="start">CDMX-P 29.9</text>
<text x="49.3" y="426.0" textLength="93.5" lengthAdjust="spacingAndGlyphs" style="font-size:15px" xml:space="preserve">[  9.0 , 18.8 ]</text>
<text x="49.3" y="445.6" textLength="93.5" lengthAdjust="spacingAndGlyphs" style="font-size:15px" xml:space="preserve">[ 18.9 , 29.4 ]</text>
<text x="49.3" y="464.5" textLength="93.5" lengthAdjust="spacingAndGlyphs" style="font-size:15px" xml:space="preserve">[ 29.5 , 44.0 ]</text>
<text x="49.3" y="483.4" textLength="93.5" lengthAdjust="spacingAndGlyphs" style="font-size:15px" xml:space="preserve">[ 44.1 , 57.6 ]</text>
<text transform="translate(34.5,514.3) scale(0.895,1)" text-anchor="start" style="font-size:15px">Estados Unidos Mexicanos:</text>
<text transform="translate(228.0,514.3) scale(0.840,1)" text-anchor="start" style="font-size:15px">28.9</text>
<text transform="translate(199.0,531.0) scale(0.840,1)" text-anchor="start" style="font-size:11.5px">(porcentaje)</text>
<!--/MAP-->
</svg>
<div class="fn" id="f1" style="top:784.1px;width:970.5px;text-align:justify;">* Se incluyen los delitos de “Robo o asalto en la calle o en el transporte público”, “Robo total de vehículo”, “Robo de accesorios, refacciones o herramientas de vehículos”, “Robo a casa habitación” y “Robo en forma distinta a las anteriores”.</div>
<div class="fn" id="f2" style="top:836.6px;white-space:nowrap;">Fuente: INEGI. Encuesta Nacional de Seguridad Pública Urbana (ENSU).</div>
</body></html>
